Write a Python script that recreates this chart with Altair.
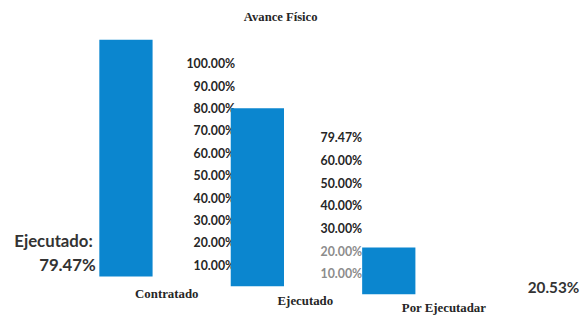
import altair as alt
import pandas as pd

# ---- data ----
categories = ["Contratado", "Ejecutado", "Por Ejecutadar"]
values = [100.0, 79.47, 20.53]

ticks_col1 = [10, 20, 30, 40, 50, 60, 70, 80, 90, 100]
labels_col1 = ["10.00%", "20.00%", "30.00%", "40.00%", "50.00%",
               "60.00%", "70.00%", "80.00%", "90.00%", "100.00%"]
ticks_col2 = [10, 20, 30, 40, 50, 60, 70]
labels_col2 = ["10.00%", "20.00%", "30.00%", "40.00%", "50.00%",
               "60.00%", "79.47%"]

title_text = "Avance Físico"
note_left = ["Ejecutado:", "79.47%"]
note_right = "20.53%"

BLUE = "#0b86cf"
INK = "#262626"

xs = alt.Scale(domain=[-0.8976, 3.3951], nice=False, zero=False, padding=0)
dom_a = [-12.92, 112.5]   # fragment with Contratado
dom_b = [-9.25, 123.35]   # fragment with Ejecutado + first label column
dom_c = [-5.65, 125.22]   # fragment with Por Ejecutadar + second label column


def yscale(dom):
    return alt.Scale(domain=dom, nice=False, zero=False)


def bar_layer(i, dom):
    d = pd.DataFrame({"idx": [i], "v": [values[i]], "cat": [categories[i]]})
    return alt.Chart(d).mark_bar(color=BLUE).encode(
        x=alt.X("idx:Q", scale=xs, axis=None),
        y=alt.Y("v:Q", scale=yscale(dom), axis=None),
        y2=alt.datum(0),
        size=alt.value(54),
    )


def label_column(i, ticks, labels, dom, dx, dy, faded_max):
    d = pd.DataFrame({"idx": [i] * len(ticks), "v": ticks, "t": labels})
    return alt.Chart(d).mark_text(
        align="right", baseline="middle", dx=dx, dy=dy,
        font="Lato", fontWeight="bold", fontSize=12.5,
    ).encode(
        x=alt.X("idx:Q", scale=xs, axis=None),
        y=alt.Y("v:Q", scale=yscale(dom), axis=None),
        text="t:N",
        color=alt.condition(alt.datum.v <= faded_max, alt.value("#8c8c8c"), alt.value(INK)),
    )


# category labels follow the slant of the scanned page
cat_df = pd.DataFrame({"idx": [0, 1, 2], "cat": categories})
cat_labels = alt.Chart(cat_df).mark_text(
    align="center", baseline="middle",
    font="Liberation Serif", fontWeight="bold", fontSize=13, color=INK,
).encode(
    x=alt.X("idx:Q", scale=alt.Scale(domain=[0, 2], range=[161, 442], nice=False, zero=False, padding=0), axis=None),
    y=alt.Y("idx:Q", scale=alt.Scale(domain=[0, 2], range=[288, 302], nice=False, zero=False), axis=None),
    text="cat:N",
)

title = alt.Chart(pd.DataFrame({"t": [title_text]})).mark_text(
    align="center", baseline="alphabetic",
    font="Liberation Serif", fontWeight="bold", fontSize=12.8, color=INK,
).encode(text="t:N", x=alt.value(276.5), y=alt.value(11.5))

left1 = alt.Chart(pd.DataFrame({"t": [note_left[0]]})).mark_text(
    align="right", baseline="alphabetic",
    font="Lato", fontWeight="bold", fontSize=17, color="#333333",
).encode(text="t:N", x=alt.value(86), y=alt.value(240))

left2 = alt.Chart(pd.DataFrame({"t": [note_left[1]]})).mark_text(
    align="right", baseline="alphabetic",
    font="Lato", fontWeight="bold", fontSize=17, color="#333333",
).encode(text="t:N", x=alt.value(89), y=alt.value(265))

right = alt.Chart(pd.DataFrame({"t": [note_right]})).mark_text(
    align="left", baseline="alphabetic",
    font="Lato", fontWeight="bold", fontSize=15.5, color="#333333",
).encode(text="t:N", x=alt.value(527), y=alt.value(287))

chart = alt.layer(
    bar_layer(0, dom_a),
    label_column(1, ticks_col1, labels_col1, dom_b, -22.5, 2, 0),
    bar_layer(1, dom_b),
    label_column(2, ticks_col2, labels_col2, dom_c, -27, 3, 20),
    bar_layer(2, dom_c),
    cat_labels,
    title,
    left1,
    left2,
    right,
).resolve_scale(x="independent", y="independent").properties(
    width=572, height=301, padding=0, background="white"
).configure_view(stroke=None)

chart.save("out.html", embed_options={"renderer": "svg", "actions": False})
